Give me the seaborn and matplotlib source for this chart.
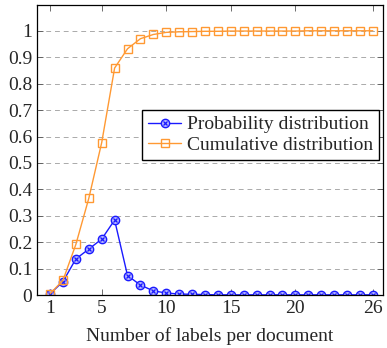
import numpy as np
import pandas as pd
import matplotlib
matplotlib.use("Agg")
import matplotlib.pyplot as plt
import seaborn as sns
from matplotlib.lines import Line2D
from matplotlib.legend_handler import HandlerTuple

# data
n_labels = list(range(1, 27))
prob = [0.005, 0.051, 0.137, 0.174, 0.212, 0.284, 0.074, 0.038, 0.016, 0.008,
        0.004, 0.003, 0.002, 0.001, 0.001, 0.001, 0.001, 0.001, 0.001, 0.001,
        0.001, 0.001, 0.001, 0.001, 0.001, 0.001]
cumul = [0.005, 0.056, 0.192, 0.366, 0.577, 0.859, 0.932, 0.970, 0.986, 0.994,
         0.996, 0.997, 0.998, 0.998, 0.999, 0.999, 0.999, 0.999, 0.999, 0.999,
         1.0, 1.0, 1.0, 1.0, 1.0, 1.0]
xtick_vals = [1, 5, 10, 15, 20, 26]

df = pd.DataFrame({"n": n_labels, "prob": prob, "cumul": cumul})

sns.set_theme(style="ticks")
plt.rcParams["font.family"] = ["Liberation Serif", "DejaVu Serif"]

blue = "#1a1aff"
orange = "#ff9933"

fig = plt.figure(figsize=(3.87, 3.48), dpi=100)
ax = fig.add_axes([0.096, 0.152, 0.894, 0.834])

sns.lineplot(data=df, x="n", y="prob", ax=ax, color=blue, lw=1.0,
             marker="o", markersize=6, markerfacecolor="#b3b3ff",
             markeredgecolor=blue, markeredgewidth=1.0)
ax.plot(df["n"], df["prob"], ls="none", marker="x", markersize=3.5,
        color=blue, markeredgewidth=0.9)
sns.lineplot(data=df, x="n", y="cumul", ax=ax, color=orange, lw=1.0,
             marker="s", markersize=6, markerfacecolor="none",
             markeredgecolor=orange, markeredgewidth=1.0)

ax.set_xlim(0, 26.8)
ax.set_ylim(0, 1.098)
ax.set_xticks(xtick_vals)
ax.set_yticks(np.arange(0, 1.01, 0.1))
ax.set_yticklabels(["0"] + [f"{v:.1f}" for v in np.arange(0.1, 0.95, 0.1)] + ["1"])
ax.tick_params(direction="in", top=True, right=True, labelsize=14, length=4,
               width=0.6, color="#555555")
ax.yaxis.grid(True, ls=(0, (5, 4)), color="#aaaaaa", lw=0.7)
ax.set_axisbelow(True)
for s in ax.spines.values():
    s.set_linewidth(0.9)
    s.set_color("black")

ax.set_xlabel("Number of labels per document", fontsize=14, labelpad=7)
ax.set_ylabel("")

h1 = (Line2D([], [], color=blue, lw=1.0, marker="o", markersize=6,
             markerfacecolor="#b3b3ff", markeredgecolor=blue),
      Line2D([], [], ls="none", marker="x", markersize=3.5, color=blue,
             markeredgewidth=0.9))
h2 = Line2D([], [], color=orange, lw=1.0, marker="s", markersize=6,
            markerfacecolor="none", markeredgecolor=orange)
ax.legend([h1, h2], ["Probability distribution", "Cumulative distribution"],
          handler_map={tuple: HandlerTuple(ndivide=1, pad=0)},
          loc="center right", bbox_to_anchor=(0.988, 0.552), fontsize=14,
          frameon=True, fancybox=False, edgecolor="black", framealpha=1,
          handlelength=1.7, handletextpad=0.3, borderpad=0.3, labelspacing=0.15,
          borderaxespad=0)

fig.savefig("out.png", dpi=100)
